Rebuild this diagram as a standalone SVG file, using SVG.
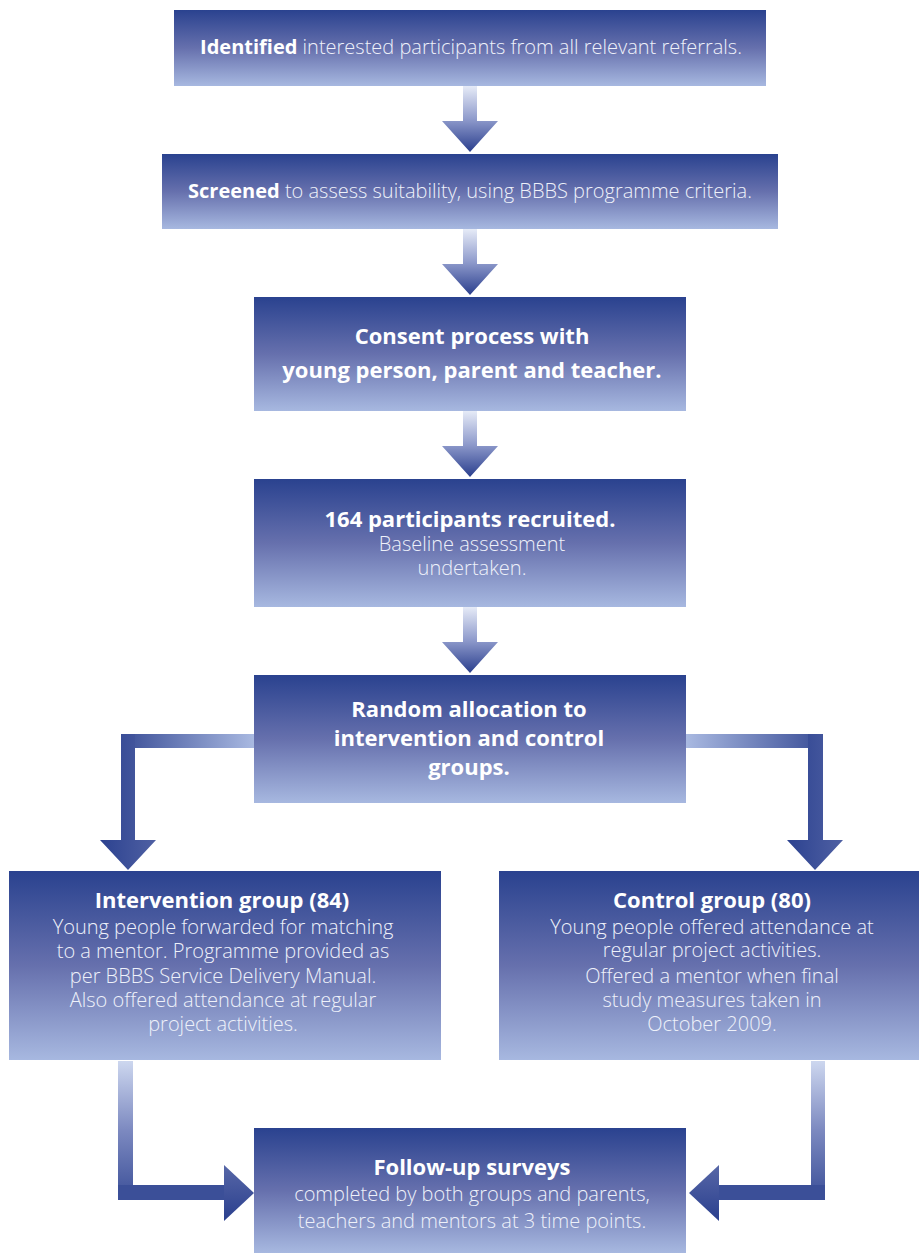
<svg xmlns="http://www.w3.org/2000/svg" width="919" height="1253" viewBox="0 0 919 1253">
<defs>
<linearGradient id="box" x1="0" y1="0" x2="0" y2="1">
<stop offset="0" stop-color="#2a428f"/>
<stop offset="0.5" stop-color="#6670ad"/>
<stop offset="1" stop-color="#a7b8e0"/>
</linearGradient>
<linearGradient id="down" x1="0" y1="0" x2="0" y2="1">
<stop offset="0" stop-color="#e6ebf7"/>
<stop offset="0.5" stop-color="#8f9bcc"/>
<stop offset="1" stop-color="#2a3e8d"/>
</linearGradient>
<linearGradient id="hL" x1="0" y1="0" x2="1" y2="0">
<stop offset="0" stop-color="#3a4e97"/>
<stop offset="1" stop-color="#a9b9e1"/>
</linearGradient>
<linearGradient id="hR" x1="0" y1="0" x2="1" y2="0">
<stop offset="0" stop-color="#a9b9e1"/>
<stop offset="1" stop-color="#3a4e97"/>
</linearGradient>
<linearGradient id="vdark" x1="0" y1="0" x2="1" y2="0">
<stop offset="0" stop-color="#2c4290"/>
<stop offset="1" stop-color="#4f60a3"/>
</linearGradient>
<linearGradient id="vup" x1="0" y1="0" x2="0" y2="1">
<stop offset="0" stop-color="#cdd7ef"/>
<stop offset="0.5" stop-color="#7c89c0"/>
<stop offset="1" stop-color="#3b4f98"/>
</linearGradient>
<linearGradient id="tri" x1="0" y1="0" x2="0" y2="1">
<stop offset="0" stop-color="#5767a7"/>
<stop offset="1" stop-color="#2a3f8e"/>
</linearGradient>
</defs>
<style>
.box{fill:url(#box);}
text{font-family:"Open Sans","Noto Sans",sans-serif;fill:#ffffff;text-anchor:middle;}
.r{font-size:20px;font-weight:300;fill:#eef1fa;}
.b{font-weight:bold;fill:#ffffff;}
.t{font-size:22px;font-weight:bold;fill:#ffffff;}
.s{font-size:20px;font-weight:300;fill:#eef1fa;}
</style>
<g id="connectors">
<path fill="url(#down)" d="M463,86 H477 V121 H498 L470,152 L442,121 H463 Z"/>
<path fill="url(#down)" d="M463,229 H477 V264 H498 L470,295 L442,264 H463 Z"/>
<path fill="url(#down)" d="M463,411 H477 V446 H498 L470,477 L442,446 H463 Z"/>
<path fill="url(#down)" d="M463,607 H477 V642 H498 L470,673 L442,642 H463 Z"/>
<rect x="121" y="734" width="133" height="14" fill="url(#hL)"/>
<path fill="url(#vdark)" d="M121,734 H135 V840 H156 L128,870 L100,840 H121 Z"/>
<rect x="686" y="734" width="137" height="14" fill="url(#hR)"/>
<path fill="url(#vdark)" d="M808,734 H823 V840 H843 L815,870 L787,840 H808 Z"/>
<rect x="118" y="1061" width="15" height="139" fill="url(#vup)"/>
<rect x="118" y="1185" width="107" height="15" fill="#3b4f98"/>
<path fill="url(#tri)" d="M224,1165 L254,1193 L224,1221 Z"/>
<rect x="811" y="1061" width="14" height="139" fill="url(#vup)"/>
<rect x="718" y="1185" width="107" height="15" fill="#3b4f98"/>
<path fill="url(#tri)" d="M719,1165 L689,1193 L719,1221 Z"/>
</g>
<g id="n1">
<rect class="box" x="174" y="10" width="592" height="76"/>
<text class="r" x="471" y="54"><tspan class="b">Identified</tspan> interested participants from all relevant referrals.</text>
</g>
<g id="n2">
<rect class="box" x="162" y="154" width="616" height="75"/>
<text class="r" x="470" y="198"><tspan class="b">Screened</tspan> to assess suitability, using BBBS programme criteria.</text>
</g>
<g id="n3">
<rect class="box" x="254" y="297" width="432" height="114"/>
<text class="t" x="472" y="344">Consent process with<tspan x="472" dy="34">young person, parent and teacher.</tspan></text>
</g>
<g id="n4">
<rect class="box" x="254" y="479" width="432" height="128"/>
<text class="s" x="470" y="527"><tspan class="t">164 participants recruited.</tspan><tspan x="472" dy="24">Baseline assessment</tspan><tspan x="472" dy="24">undertaken.</tspan></text>
</g>
<g id="n5">
<rect class="box" x="254" y="675" width="432" height="128"/>
<text class="t" x="469" y="717">Random allocation to<tspan x="469" dy="29">intervention and control</tspan><tspan x="469" dy="29">groups.</tspan></text>
</g>
<g id="n6">
<rect class="box" x="9" y="871" width="432" height="189"/>
<text class="s" x="222" y="908"><tspan class="t">Intervention group (84)</tspan><tspan x="223" dy="26">Young people forwarded for matching</tspan><tspan x="223" dy="24">to a mentor. Programme provided as</tspan><tspan x="223" dy="25">per BBBS Service Delivery Manual.</tspan><tspan x="223" dy="24">Also offered attendance at regular</tspan><tspan x="223" dy="24">project activities.</tspan></text>
</g>
<g id="n7">
<rect class="box" x="499" y="871" width="420" height="189"/>
<text class="s" x="712" y="908"><tspan class="t">Control group (80)</tspan><tspan x="712" dy="26">Young people offered attendance at</tspan><tspan x="712" dy="23">regular project activities.</tspan><tspan x="712" dy="26">Offered a mentor when final</tspan><tspan x="712" dy="24">study measures taken in</tspan><tspan x="712" dy="24">October 2009.</tspan></text>
</g>
<g id="n8">
<rect class="box" x="254" y="1128" width="432" height="125"/>
<text class="s" x="472" y="1175"><tspan class="t">Follow-up surveys</tspan><tspan x="472" dy="26">completed by both groups and parents,</tspan><tspan x="472" dy="27">teachers and mentors at 3 time points.</tspan></text>
</g>
</svg>
